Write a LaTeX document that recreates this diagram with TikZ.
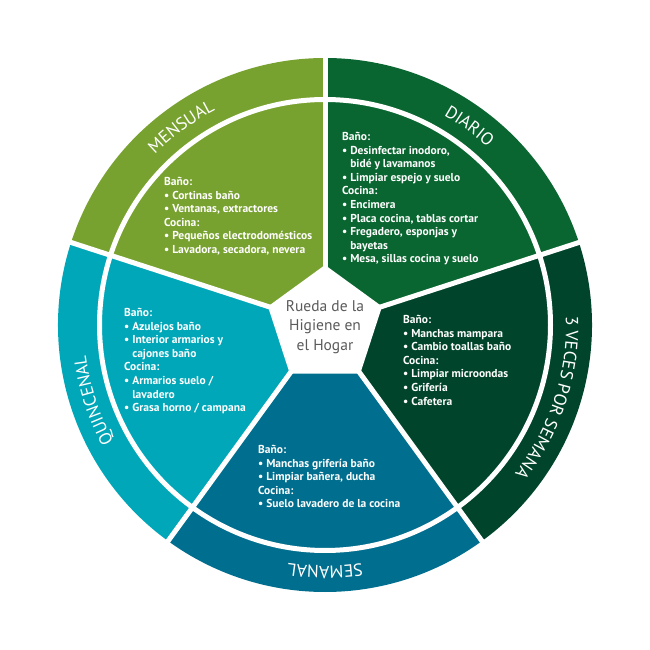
\documentclass[tikz,border=0pt]{standalone}
\usepackage{fontspec}
\setmainfont{PT Sans}
\usetikzlibrary{decorations.text}
\definecolor{cmen}{HTML}{78A22F}
\definecolor{cdia}{HTML}{0A6630}
\definecolor{ctres}{HTML}{00452B}
\definecolor{csem}{HTML}{006E8E}
\definecolor{cqui}{HTML}{00A7B8}
\definecolor{cgray}{HTML}{5A5A5A}
\newcommand{\bandfont}{\fontsize{17.5}{17.5}\selectfont}
\newcommand{\cont}{\phantom{•\ }}
\tikzset{
  items/.style={text=white, font=\fontsize{11.5}{13.6}\selectfont\bfseries, align=left, anchor=north west, inner sep=0pt},
  gap/.style={white, line width=5pt},
  bandlabel/.style={decorate, decoration={text along path, text align=center, text color=white}}
}
\begin{document}
\begin{tikzpicture}[x=1pt,y=1pt]
\useasboundingbox (-325,-325) rectangle (325,325);
\fill[white] (-325,-325) rectangle (325,325);
\coordinate (c) at (0,0);
% sectors
\foreach \a/\col in {90/cmen,162/cqui,234/csem,306/ctres,18/cdia}
  \fill[\col] (c) -- (\a:267) arc[start angle=\a, end angle=\a+72, radius=267] -- cycle;
% white gaps
\draw[gap] (c) circle[radius=225.5];
\foreach \a in {18,90,162,234,306}
  \draw[gap] (c) -- (\a:272);
\fill[white] (90:60) -- (162:60) -- (234:60) -- (306:60) -- (18:60) -- cycle;
% band labels
\path[bandlabel, decoration={text={|\bandfont|MENSUAL}}] (162:241) arc[start angle=162, end angle=90, radius=241];
\path[bandlabel, decoration={text={|\bandfont|DIARIO}}] (90:241) arc[start angle=90, end angle=18, radius=241];
\path[bandlabel, decoration={text={|\bandfont|3 VECES POR SEMANA}}] (18:241) arc[start angle=18, end angle=-54, radius=241];
\path[bandlabel, decoration={text={|\bandfont|SEMANAL}}] (306:241) arc[start angle=306, end angle=234, radius=241];
\path[bandlabel, decoration={text={|\bandfont|QUINCENAL}}] (234:241) arc[start angle=234, end angle=162, radius=241];
% center
\node[text=cgray, font=\fontsize{15.5}{19.5}\selectfont, align=center] (centro) at (0,-2) {Rueda de la\\Higiene en\\el Hogar};
% items
\node[items] (tmen) at (-161,148) {Baño:\\• Cortinas baño\\• Ventanas, extractores\\Cocina:\\• Pequeños electrodomésticos\\• Lavadora, secadora, nevera};
\node[items] (tdia) at (17,193) {Baño:\\• Desinfectar inodoro,\\\cont bidé y lavamanos\\• Limpiar espejo y suelo\\Cocina:\\• Encimera\\• Placa cocina, tablas cortar\\• Fregadero, esponjas y\\\cont bayetas\\• Mesa, sillas cocina y suelo};
\node[items] (ttres) at (78,10) {Baño:\\• Manchas mampara\\• Cambio toallas baño\\Cocina:\\• Limpiar microondas\\• Grifería\\• Cafetera};
\node[items] (tqui) at (-201,17) {Baño:\\• Azulejos baño\\• Interior armarios y\\\cont cajones baño\\Cocina:\\• Armarios suelo /\\\cont lavadero\\• Grasa horno / campana};
\node[items] (tsem) at (-67,-120) {Baño:\\• Manchas grifería baño\\• Limpiar bañera, ducha\\Cocina:\\• Suelo lavadero de la cocina};
\end{tikzpicture}
\end{document}
